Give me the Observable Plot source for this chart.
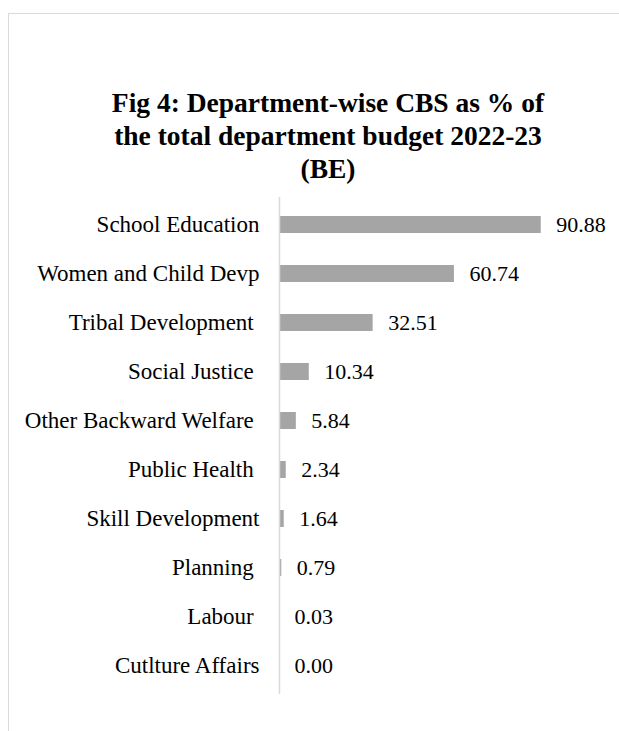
<!DOCTYPE html>
<html>
<head>
<meta charset="utf-8">
<script src="https://cdn.jsdelivr.net/npm/d3@7"></script>
<script src="https://cdn.jsdelivr.net/npm/@observablehq/plot@0.6"></script>
<style>
  html, body { margin: 0; padding: 0; background: #fff; overflow: hidden; }
  #frame { position: absolute; left: 8px; top: 13px; width: 640px; height: 760px;
           border-top: 1px solid #d9d9d9; border-left: 1px solid #d9d9d9; }
  #title { position: absolute; left: 8px; top: 0; width: 640px; text-align: center;
           font-family: "Liberation Serif", serif; font-weight: bold; font-size: 27.5px;
           line-height: 33px; color: #000; padding-top: 86px; }
  #chart { position: absolute; left: 0; top: 0; }
  #chart svg text { white-space: pre; }
</style>
</head>
<body>
<div id="frame"></div>
<div id="chart"></div>
<div id="title">Fig 4: Department-wise CBS as % of<br>the total department budget 2022-23<br>(BE)</div>
<script>
const departments = [
  "School Education",
  "Women and Child Devp",
  "Tribal Development ",
  "Social Justice ",
  "Other Backward Welfare ",
  "Public Health ",
  "Skill Development",
  "Planning ",
  "Labour ",
  "Cutlture Affairs"
];
const values = [90.88, 60.74, 32.51, 10.34, 5.84, 2.34, 1.64, 0.79, 0.03, 0.00];

const data = departments.map((d, i) => ({dept: d, value: values[i]}));

const chart = Plot.plot({
  width: 619,
  height: 731,
  marginTop: 197,
  marginBottom: 37,
  marginLeft: 279,
  marginRight: 52,
  style: {fontFamily: "Liberation Serif, serif", fontSize: "22px", color: "#000", background: "transparent"},
  x: {domain: [0, 100], axis: null},
  y: {domain: departments, paddingInner: 0.65, paddingOuter: 0.325, label: null},
  marks: [
    Plot.barX(data, {x: "value", y: "dept", fill: "#a5a5a5"}),
    Plot.ruleX([0], {stroke: "#d9d9d9", strokeWidth: 1.5}),
    Plot.axisY({tickSize: 0, tickPadding: 20, fontSize: 23, fill: "#000", label: null}),
    Plot.text(data, {x: "value", y: "dept", text: d => d.value.toFixed(2), dx: 15,
                     textAnchor: "start", fontSize: 22, fill: "#000"})
  ]
});
document.getElementById("chart").appendChild(chart);
</script>
</body>
</html>
